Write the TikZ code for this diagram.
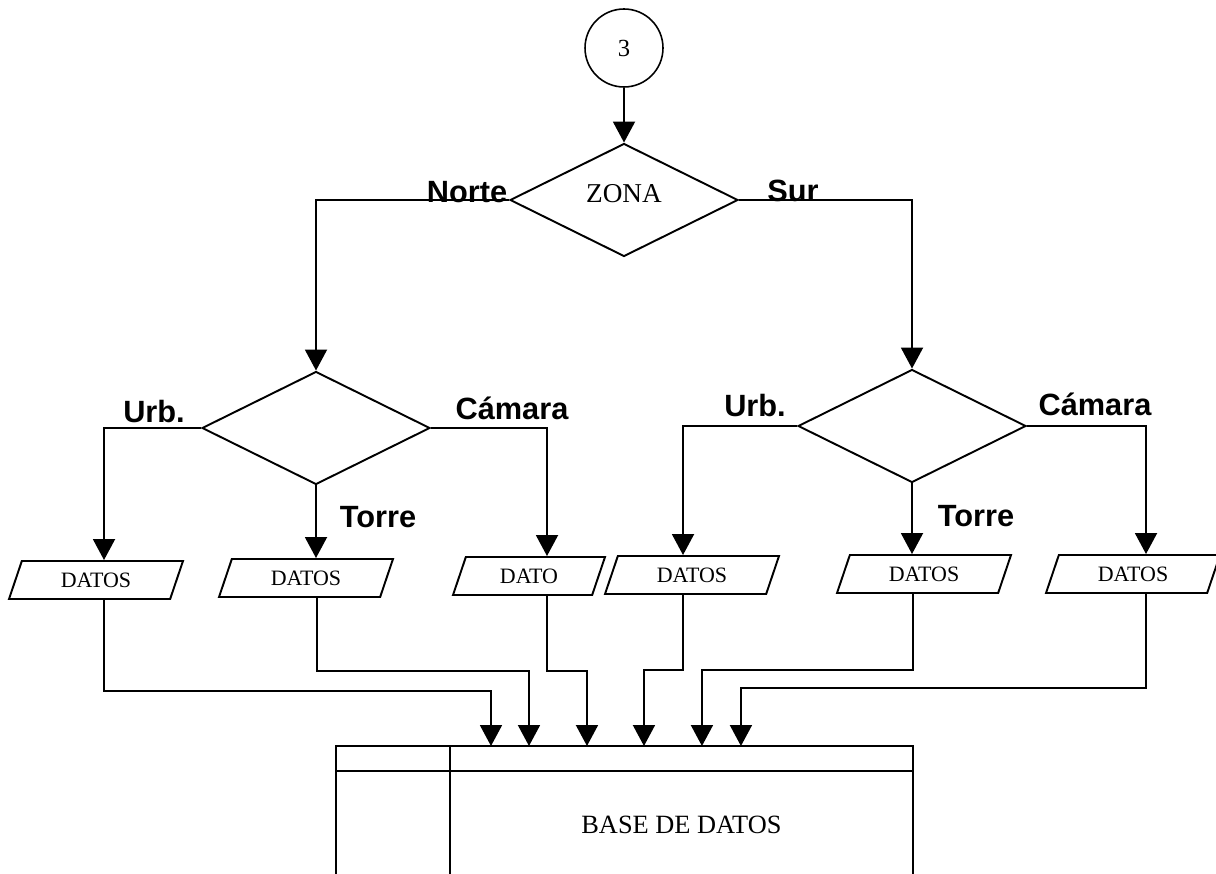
\documentclass[tikz,border=0pt]{standalone}
\usepackage{fontspec}
\setmainfont{Liberation Serif}
\newfontfamily\lblfont{Liberation Sans}
\usepackage{tikz}
\usetikzlibrary{shapes.geometric,arrows.meta,positioning}

\tikzset{
  flow/.style={-{Triangle[length=0.42cm,width=0.44cm]},line width=1.1pt},
  decision/.style={diamond,draw,line width=1.1pt,aspect=2,minimum width=4.56cm,minimum height=2.26cm,inner sep=0pt},
  datbox/.style={trapezium,trapezium left angle=49,trapezium right angle=131,trapezium stretches body,
    draw,line width=1.1pt,minimum width=3.48cm,minimum height=0.76cm,inner sep=0pt,font=\fontsize{12.5}{14}\selectfont},
  lbl/.style={font=\lblfont\bfseries\fontsize{17.5}{20}\selectfont,inner sep=0pt,anchor=base}
}

\begin{document}
\begin{tikzpicture}[x=0.02cm,y=-0.02cm]
\useasboundingbox (0,0) rectangle (1216,874);

% conector y decision principal
\node[draw,circle,line width=0.9pt,minimum size=1.56cm,inner sep=0pt,font=\fontsize{14}{16}\selectfont] (c3) at (624,48) {3};
\node[decision,font=\fontsize{15.5}{18}\selectfont] (zona) at (624,200) {\raisebox{0.28cm}{ZONA}};
\node[decision] (zl) at (316,428) {};
\node[decision] (zr) at (912,426) {};

% etiquetas
\node[lbl] (tnorte) at (467,203) {Norte};
\node[lbl] (tsur) at (793,202) {Sur};
\node[lbl] (turbl) at (154,422) {Urb.};
\node[lbl] (ttorl) at (378,527) {Torre};
\node[lbl] (tcaml) at (512,419) {Cámara};
\node[lbl] (turbr) at (755,417) {Urb.};
\node[lbl] (ttorr) at (976,526) {Torre};
\node[lbl] (tcamr) at (1095,416) {Cámara};

% datos
\node[datbox] (d1) at (96,580) {DATOS};
\node[datbox] (d2) at (306,578) {DATOS};
\node[datbox,minimum width=3.04cm] (d3) at (529,576) {DATO};
\node[datbox] (d4) at (692,575) {DATOS};
\node[datbox] (d5) at (924,574) {DATOS};
\node[datbox] (d6) at (1133,574) {DATOS};

% base de datos
\node[draw,line width=1.1pt,anchor=north west,minimum width=9.26cm,minimum height=3.16cm,inner sep=0pt,outer sep=0pt,
  font=\fontsize{15}{18}\selectfont] (db) at (450,746) {BASE DE DATOS};
\draw[line width=1.1pt] (db.north west) -- ([xshift=-2.28cm]db.north west) -- ([xshift=-2.28cm]db.south west);
\draw[line width=1.1pt] ([xshift=-2.28cm,yshift=-0.5cm]db.north west) -- ([yshift=-0.5cm]db.north east);

% flechas
\draw[flow] (c3) -- (zona);
\draw[flow] (zona.west) -| (zl.north);
\draw[flow] (zona.east) -| (zr.north);
\draw[flow] (zl.west) -| ([xshift=0.16cm]d1.north);
\draw[flow] (zl.south) -- (zl.south |- d2.north);
\draw[flow] (zl.east) -| ([xshift=0.36cm]d3.north);
\draw[flow] (zr.west) -| ([xshift=-0.18cm]d4.north);
\draw[flow] (zr.south) -- (zr.south |- d5.north);
\draw[flow] (zr.east) -| ([xshift=0.26cm]d6.north);

\draw[flow] ([xshift=0.16cm]d1.south) -- ++(0,91) -| ([xshift=-3.81cm]db.north);
\draw[flow] ([xshift=0.22cm]d2.south) -- ++(0,73) -| ([xshift=-3.05cm]db.north);
\draw[flow] ([xshift=0.36cm]d3.south) -- ++(0,75) -| ([xshift=-1.89cm]db.north);
\draw[flow] ([xshift=-0.18cm]d4.south) -- ++(0,75) -| ([xshift=-0.75cm]db.north);
\draw[flow] ([xshift=-0.22cm]d5.south) -- ++(0,76) -| ([xshift=0.41cm]db.north);
\draw[flow] ([xshift=0.26cm]d6.south) -- ++(0,94) -| ([xshift=1.19cm]db.north);
\end{tikzpicture}
\end{document}
